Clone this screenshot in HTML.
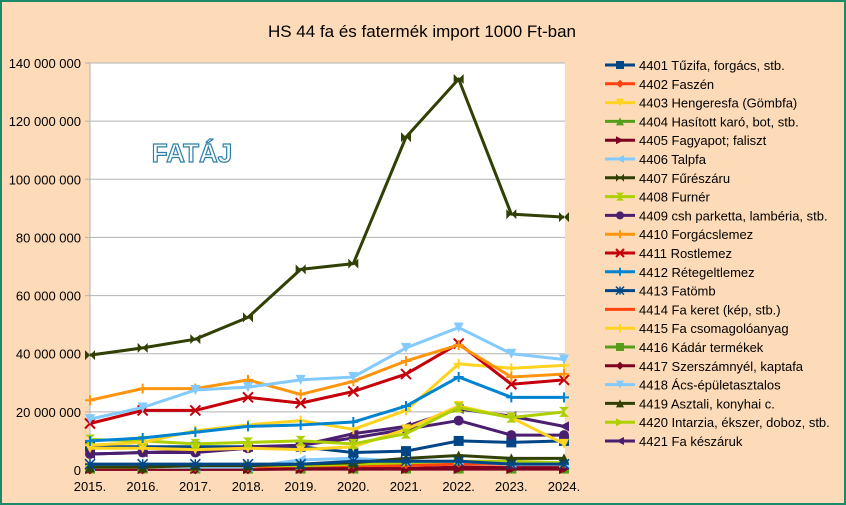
<!DOCTYPE html>
<html><head><meta charset="utf-8"><style>
html,body{margin:0;padding:0;}
body{width:846px;height:505px;overflow:hidden;background:#fddbb8;}
svg{display:block;font-family:"Liberation Sans",sans-serif;}
</style></head><body>
<svg id="c" width="846" height="505" xmlns="http://www.w3.org/2000/svg">
<rect x="0" y="0" width="846" height="505" fill="#fddbb8"/>
<rect x="1" y="1" width="844" height="503" fill="none" stroke="#1a8a6a" stroke-width="2"/>
<rect x="90" y="63" width="475" height="407" fill="#fff"/>
<text x="422" y="37" text-anchor="middle" font-size="17" fill="#000">HS 44 fa és fatermék import 1000 Ft-ban</text>
<g id="grid"></g>
<text x="192" y="162" font-size="26" font-weight="bold" fill="#fff" stroke="#2a7fa8" stroke-width="1.2" text-anchor="middle">FATÁJ</text>
<g id="series"></g>
<g id="legend"></g>
</svg>
<script>
var ns="http://www.w3.org/2000/svg";
function el(t,a,p,txt){var e=document.createElementNS(ns,t);for(var k in a)e.setAttribute(k,a[k]);if(txt!==undefined)e.textContent=txt;p.appendChild(e);return e;}
var g=document.getElementById('grid');
function Y(v){return 470-v*407/140;}
function X(i){return 90+i*474/9;}
var labs=["0","20 000 000","40 000 000","60 000 000","80 000 000","100 000 000","120 000 000","140 000 000"];
for(var i=0;i<8;i++){var y=Y(i*20);
el('line',{x1:85,x2:565,y1:y,y2:y,stroke:'#b3b3b3','stroke-width':1},g);
el('text',{x:81,y:y+5,'text-anchor':'end','font-size':13,fill:'#000'},g,labs[i]);}
el('line',{x1:90,x2:90,y1:63,y2:474,stroke:'#b3b3b3'},g);
for(var i=0;i<10;i++){el('line',{x1:X(i),x2:X(i),y1:470,y2:474,stroke:'#b3b3b3'},g);
el('text',{x:X(i),y:491,'text-anchor':'middle','font-size':13,fill:'#000'},g,(2015+i)+'.');}
var S=[
["4401 Tűzifa, forgács, stb.","#004586","sq",[8,8,8,8,8,6,6.5,10,9.5,10]],
["4402 Faszén","#ff420e","dia",[0.8,0.8,1,1,1.5,2,2,2.5,2.5,2]],
["4403 Hengeresfa (Gömbfa)","#ffd320","tdn",[7.5,7.5,7,7.5,7,8,14,22,18,9]],
["4404 Hasított karó, bot, stb.","#579d1c","tup",[0.5,0.5,0.5,0.5,0.5,0.5,0.5,0.5,0.5,0.5]],
["4405 Fagyapot; faliszt","#7e0021","trt",[0.3,0.3,0.3,0.3,0.3,0.3,0.3,0.3,0.3,0.3]],
["4406 Talpfa","#83caff","tlt",[1,1,1,1,3.5,4,3,3,2,2]],
["4407 Fűrészáru","#314004","bow",[39.5,42,45,52.5,69,71,114.5,134.5,88,87]],
["4408 Furnér","#aecf00","hg",[10.5,10,9,9.5,10,9,12.5,21.5,18,20]],
["4409 csh parketta, lambéria, stb.","#4b1f6f","cir",[5.5,6,6,7.5,8.5,11,14,17,12,12]],
["4410 Forgácslemez","#ff950e","plus",[24,28,28,31,26,30.5,37.5,43,32,33]],
["4411 Rostlemez","#c5000b","x",[16,20.5,20.5,25,23,27,33,43.5,29.5,31]],
["4412 Rétegeltlemez","#0084d1","plus",[10,11,13,15,15.5,16.5,22,32,25,25]],
["4413 Fatömb","#004586","star",[2,2,2,2,2,3,3,3,2,2]],
["4414 Fa keret (kép, stb.)","#ff420e","none",[1,1,1,1,1.5,1.5,1.5,2,2,2]],
["4415 Fa csomagolóanyag","#ffd320","plus",[8.5,9.5,13.5,15.5,17,14,20.5,36.5,35,36]],
["4416 Kádár termékek","#579d1c","sq",[0.5,0.5,0.5,0.5,0.5,0.5,0.5,0.5,0.5,0.5]],
["4417 Szerszámnyél, kaptafa","#7e0021","dia",[0.2,0.2,0.2,0.2,0.4,0.5,0.5,1,0.8,0.8]],
["4418 Ács-épületasztalos","#83caff","tdn",[17.5,21.5,27.5,28.5,31,32,42,49,40,38]],
["4419 Asztali, konyhai c.","#314004","tup",[1,1,1.5,1.5,2,2.5,4,5,4,4]],
["4420 Intarzia, ékszer, doboz, stb.","#aecf00","trt",[1,1,1,1.5,1.5,2,2.5,3,3,2.5]],
["4421 Fa készáruk","#4b1f6f","tlt",[5.5,6,6.5,8,8.5,12.5,15,21,18.5,15]]];
function mk(t,x,y,c,p,r){r=r||5;
switch(t){
case 'sq':el('rect',{x:x-r,y:y-r,width:2*r,height:2*r,fill:c},p);break;
case 'dia':el('polygon',{points:[x,y-r,x+r,y,x,y+r,x-r,y].join(' '),fill:c},p);break;
case 'tdn':el('polygon',{points:[x-r,y-r,x+r,y-r,x,y+r].join(' '),fill:c},p);break;
case 'tup':el('polygon',{points:[x-r,y+r,x+r,y+r,x,y-r].join(' '),fill:c},p);break;
case 'trt':el('polygon',{points:[x-r,y-r,x-r,y+r,x+r,y].join(' '),fill:c},p);break;
case 'tlt':el('polygon',{points:[x+r,y-r,x+r,y+r,x-r,y].join(' '),fill:c},p);break;
case 'bow':el('polygon',{points:[x-r,y-r,x+r,y+r,x+r,y-r,x-r,y+r].join(' '),fill:c},p);break;
case 'hg':el('polygon',{points:[x-r,y-r,x+r,y-r,x-r,y+r,x+r,y+r].join(' '),fill:c},p);break;
case 'cir':el('circle',{cx:x,cy:y,r:r,fill:c},p);break;
case 'plus':el('path',{d:'M'+(x-r)+' '+y+'h'+2*r+'M'+x+' '+(y-r)+'v'+2*r,stroke:c,'stroke-width':2},p);break;
case 'x':el('path',{d:'M'+(x-r)+' '+(y-r)+'l'+2*r+' '+2*r+'M'+(x+r)+' '+(y-r)+'l'+(-2*r)+' '+2*r,stroke:c,'stroke-width':2},p);break;
case 'star':el('path',{d:'M'+(x-r)+' '+y+'h'+2*r+'M'+x+' '+(y-r)+'v'+2*r+'M'+(x-r)+' '+(y-r)+'l'+2*r+' '+2*r+'M'+(x+r)+' '+(y-r)+'l'+(-2*r)+' '+2*r,stroke:c,'stroke-width':1.5},p);break;
}}
var sg=document.getElementById('series');
var order=[3,15,4,16,1,13,19,5,18,12,0,8,20,2,7,14,11,10,9,17,6];
order.forEach(function(s){var d=S[s];var pts=d[3].map(function(v,i){return X(i)+','+Y(v)}).join(' ');
el('polyline',{points:pts,fill:'none',stroke:d[1],'stroke-width':3,'stroke-linejoin':'round'},sg);
d[3].forEach(function(v,i){mk(d[2],X(i),Y(v),d[1],sg);});});
var lg=document.getElementById('legend');
S.forEach(function(d,i){var y=65+i*18.8;
el('line',{x1:605,x2:635,y1:y,y2:y,stroke:d[1],'stroke-width':3},lg);
mk(d[2],620,y,d[1],lg,4);
el('text',{x:639,y:y+5,'font-size':13,fill:'#000'},lg,d[0]);});
</script>
</body></html>
